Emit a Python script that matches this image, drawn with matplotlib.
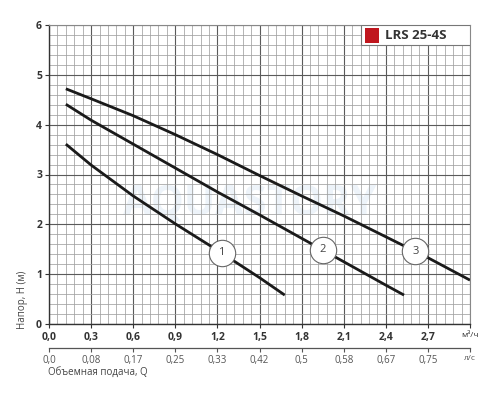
import numpy as np
import matplotlib
matplotlib.use("Agg")
import matplotlib.pyplot as plt
from matplotlib.patches import Rectangle

plt.rcParams["font.family"] = ["Open Sans", "DejaVu Sans"]

# flow in m3/h, head in m
q1 = [0.12, 0.3, 0.6, 0.9, 1.2, 1.5, 1.68]
h1 = [3.61, 3.19, 2.57, 2.01, 1.48, 0.93, 0.58]
q2 = [0.12, 0.3, 0.6, 0.9, 1.2, 1.5, 1.8, 2.1, 2.4, 2.53]
h2 = [4.41, 4.09, 3.61, 3.13, 2.65, 2.19, 1.72, 1.25, 0.78, 0.58]
q3 = [0.12, 0.3, 0.6, 0.9, 1.2, 1.5, 1.8, 2.1, 2.4, 2.7, 3.0]
h3 = [4.72, 4.52, 4.18, 3.80, 3.40, 2.98, 2.57, 2.17, 1.75, 1.33, 0.88]
curves = [(q1, h1), (q2, h2), (q3, h3)]
label_q = [1.23, 1.95, 2.61]
curve_names = ["1", "2", "3"]

x_ticks = [0.0, 0.3, 0.6, 0.9, 1.2, 1.5, 1.8, 2.1, 2.4, 2.7, 3.0]
x_labels = ["0,0", "0,3", "0,6", "0,9", "1,2", "1,5", "1,8", "2,1", "2,4", "2,7", "м³/ч"]
ls_labels = ["0,0", "0,08", "0,17", "0,25", "0,33", "0,42", "0,5", "0,58", "0,67", "0,75", "л/с"]
y_ticks = [0, 1, 2, 3, 4, 5, 6]
title = "LRS 25-4S"

fig = plt.figure(figsize=(5, 4), dpi=100)
ax = fig.add_axes([0.098, 0.19, 0.842, 0.7475])
ax.set_xlim(0, 3.0)
ax.set_ylim(0, 6)

ax.set_xticks(x_ticks)
ax.set_xticks(np.arange(0, 3.0001, 0.06), minor=True)
ax.set_yticks(y_ticks)
ax.set_yticks(np.arange(0, 6.0001, 0.2), minor=True)
ax.grid(which="minor", color="#a0a0a0", lw=0.55)
ax.grid(which="major", color="#5a5a5a", lw=0.8)
ax.set_axisbelow(True)

for s in ["top", "right"]:
    ax.spines[s].set_color("#888888")
    ax.spines[s].set_linewidth(0.8)
for s in ["left", "bottom"]:
    ax.spines[s].set_color("#333333")
    ax.spines[s].set_linewidth(1.0)

ax.set_xticklabels(x_labels)
ax.set_yticklabels([str(v) for v in y_ticks])
ax.tick_params(axis="both", which="minor", length=0)
ax.tick_params(axis="x", which="major", length=3, color="#333333", pad=3)
ax.tick_params(axis="y", which="major", length=3, color="#333333", pad=2)
for lab in ax.get_xticklabels() + ax.get_yticklabels():
    lab.set_fontweight("bold")
    lab.set_fontsize(7.5)
    lab.set_color("#333333")
xl = ax.get_xticklabels()
xl[-1].set_fontweight("normal")
xl[-1].set_fontsize(6)

# watermark
ax.text(1.43, 2.4, "AQUASTORY", fontsize=30, fontweight="bold", color="#edf3f9",
        ha="center", va="center", zorder=0.5)

for (q, h), name, lq in zip(curves, curve_names, label_q):
    ax.plot(q, h, color="#1a1a1a", lw=2.0, solid_capstyle="butt", zorder=3)
    lh = np.interp(lq, q, h)
    ax.plot([lq], [lh], marker="o", ms=19, mfc="white", mec="#666666", mew=0.8, zorder=4)
    ax.text(lq, lh, name, ha="center", va="center", fontsize=8, color="#444444", zorder=5)

# legend box
ax.add_patch(Rectangle((0.741, 0.933), 0.259, 0.067, transform=ax.transAxes,
                       facecolor="white", edgecolor="#777777", lw=0.8, zorder=5))
ax.add_patch(Rectangle((0.751, 0.94), 0.033, 0.05, transform=ax.transAxes,
                       facecolor="#c0161e", edgecolor="none", zorder=6))
ax.text(0.798, 0.966, title, transform=ax.transAxes, fontsize=9.5, fontweight="bold",
        color="#333333", ha="left", va="center", zorder=6)

# secondary l/s axis
sec = ax.secondary_xaxis(-0.08)
sec.set_xticks(x_ticks)
sec.set_xticklabels(ls_labels)
sec.spines["bottom"].set_color("#555555")
sec.spines["bottom"].set_linewidth(0.9)
sec.tick_params(axis="x", length=3, color="#555555", labelsize=7, labelcolor="#555555", pad=2)
sl = sec.get_xticklabels()
sl[-1].set_fontsize(6)

fig.text(0.096, 0.068, "Объемная подача, Q", fontsize=7, color="#444444", ha="left", va="center")
fig.text(0.044, 0.25, "Напор, H (м)", fontsize=7, color="#444444", rotation=90,
         ha="center", va="center")

fig.savefig("out.png", dpi=100)
